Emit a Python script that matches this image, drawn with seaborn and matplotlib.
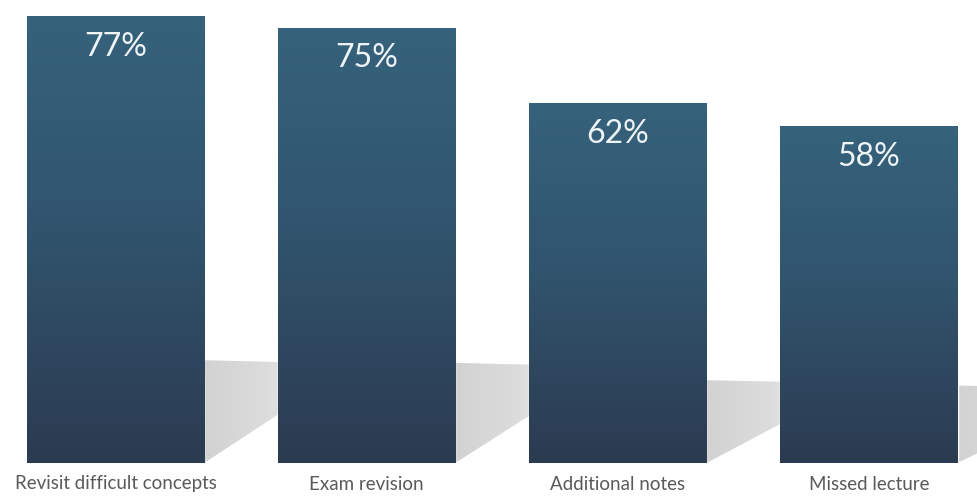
import numpy as np
import pandas as pd
import matplotlib
matplotlib.use("Agg")
import matplotlib.pyplot as plt
import seaborn as sns
from matplotlib.patches import Polygon
from matplotlib.colors import LinearSegmentedColormap

categories = ["Revisit difficult concepts", "Exam revision", "Additional notes", "Missed lecture"]
values = [77, 75, 62, 58]
labels = ["77%", "75%", "62%", "58%"]

sns.set_theme(style="white")
plt.rcParams['font.family'] = ['Lato', 'DejaVu Sans']

df = pd.DataFrame({"category": categories, "value": values})

fig = plt.figure(figsize=(9.77, 4.97), dpi=100)
ax = fig.add_axes([0, 34/497, 1, 463/497])
sns.barplot(data=df, x="category", y="value", color="#305a73", width=0.705,
            saturation=1, ax=ax, zorder=3)

ax.set_xlim(-0.46, 3.43)
ax.set_ylim(0, 79.76)

bar_cmap = LinearSegmentedColormap.from_list(
    "bar", [(0, "#2b3b50"), (0.15, "#2d4259"), (0.55, "#31556e"), (1, "#36627b")])
shadow_cmap = LinearSegmentedColormap.from_list("sh", ["#d2d2d2", "#dcdcdc", "#f2f2f2"])

for patch, lab in zip(ax.patches, labels):
    x0 = patch.get_x()
    w = patch.get_width()
    h = patch.get_height()
    grad = np.linspace(0, 1, 256).reshape(-1, 1)
    im = ax.imshow(grad, cmap=bar_cmap, aspect="auto", origin="lower",
                   extent=[x0, x0 + w, 0, h], zorder=4)
    im.set_clip_path(patch)
    # shadow
    xr = x0 + w
    hs = h * 0.23
    dx = 0.5
    poly = Polygon([(xr, 0), (xr, hs), (xr + dx, hs * 0.97), (xr + dx, hs * 0.8)],
                   closed=True, facecolor="none", edgecolor="none")
    ax.add_patch(poly)
    sg = np.linspace(0, 1, 256).reshape(1, -1)
    sim = ax.imshow(sg, cmap=shadow_cmap, aspect="auto", origin="lower",
                    extent=[xr, xr + dx, 0, hs], zorder=2)
    sim.set_clip_path(poly)
    ax.text(x0 + w / 2, h - 5.3, lab, ha="center", va="center",
            color="#eef3f6", fontsize=23, zorder=5)

ax.set_xlim(-0.46, 3.43)
ax.set_ylim(0, 79.76)
ax.set_xlabel("")
ax.set_ylabel("")
ax.set_yticks([])
ax.tick_params(axis="x", length=0, pad=9, labelsize=13.5, labelcolor="#5a5a5a")
for s in ax.spines.values():
    s.set_visible(False)

fig.savefig("out.png", dpi=100, facecolor="white")
